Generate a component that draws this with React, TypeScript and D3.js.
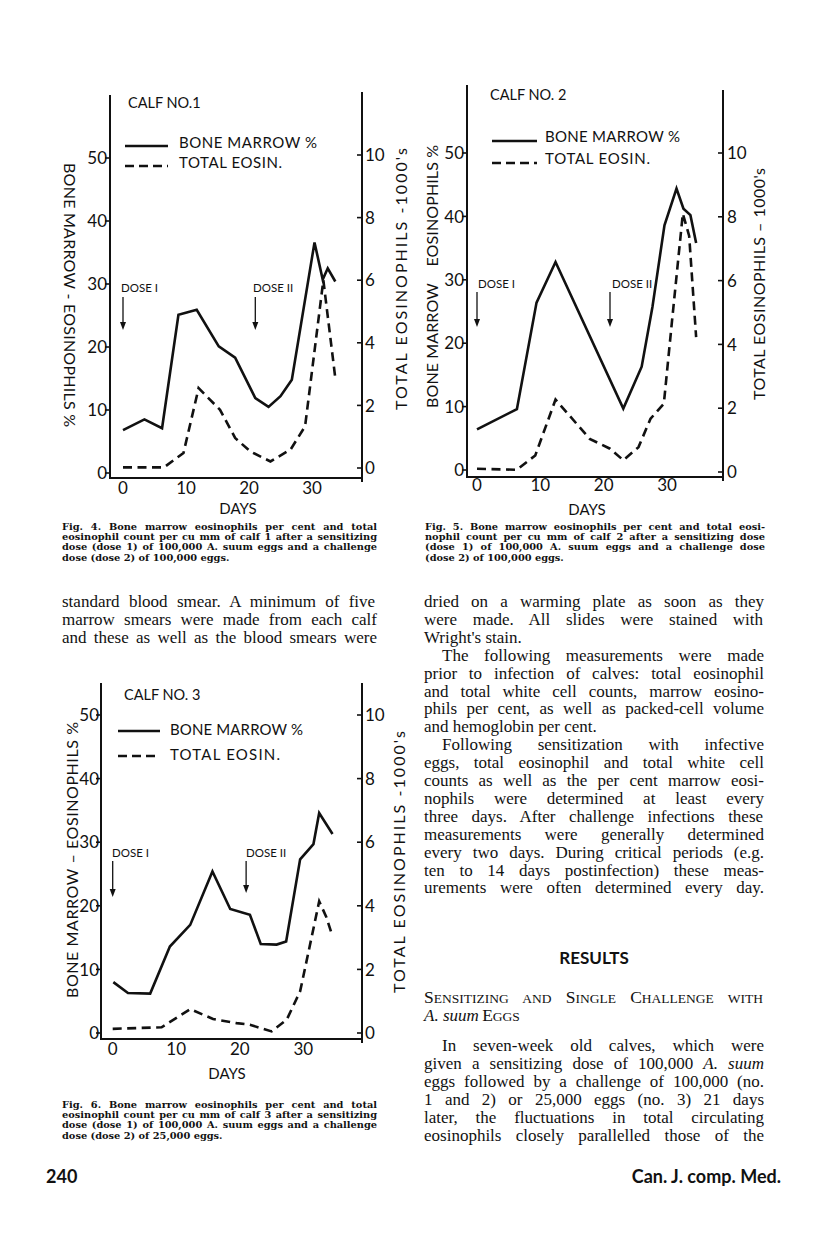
import React from 'react';
import * as d3 from 'd3';

// ---------- chart data ----------
const DAY_TICKS = [0, 10, 20, 30];
const PCT_TICKS = [0, 10, 20, 30, 40, 50];
const K_TICKS = [0, 2, 4, 6, 8, 10];
const DOSE_DAYS = [0, 21];
const DOSE_LABELS = ['DOSE I', 'DOSE II'];
const LEGEND_LABELS = ['BONE MARROW %', 'TOTAL EOSIN.'];

const calf1MarrowDays = [0, 3.4, 6.2, 8.8, 11.7, 15.2, 17.8, 21, 23.1, 25, 26.8, 30.4, 31.7, 32.5, 33.7];
const calf1MarrowPct = [6.8, 8.5, 7.1, 25.1, 25.9, 20.1, 18.3, 11.9, 10.5, 12.2, 14.8, 36.6, 30.7, 32.5, 30.4];
const calf1EosinDays = [0, 6.5, 9.6, 12, 15.4, 17.8, 20.2, 23.4, 26.6, 28.9, 30.5, 31.8, 33.7];
const calf1EosinK = [0.02, 0.02, 0.48, 2.55, 1.86, 0.96, 0.53, 0.21, 0.59, 1.33, 3.9, 6.0, 2.87];

const calf2MarrowDays = [0, 6.3, 9.4, 12.4, 23.1, 26, 27.7, 29.6, 31.5, 32.6, 33.7, 34.6];
const calf2MarrowPct = [6.4, 9.6, 26.4, 32.8, 9.7, 16.3, 25.7, 38.6, 44.4, 41.2, 40.2, 35.8];
const calf2EosinDays = [0, 6.3, 9.2, 12.4, 17.8, 21, 23.1, 25.5, 27.4, 29.5, 30.8, 32.5, 33.5, 34.6];
const calf2EosinK = [0.1, 0.07, 0.52, 2.27, 1.04, 0.73, 0.37, 0.78, 1.67, 2.14, 4.75, 8.1, 7.4, 4.23];

const calf3MarrowDays = [0.1, 2.4, 5.9, 9, 12.2, 15.7, 18.5, 21.6, 23.3, 25.8, 27.3, 29.5, 31.6, 32.5, 34.6];
const calf3MarrowPct = [8.0, 6.3, 6.2, 13.6, 17.0, 25.4, 19.5, 18.6, 14.0, 13.9, 14.4, 27.3, 29.7, 34.6, 31.3];
const calf3EosinDays = [0, 7.7, 12.2, 15.8, 19.5, 21.6, 25, 27.4, 29.5, 31, 32.5, 33.6, 34.6];
const calf3EosinK = [0.13, 0.18, 0.75, 0.44, 0.31, 0.26, 0.05, 0.42, 1.31, 2.72, 4.14, 3.66, 3.04];

// ---------- page text ----------
const CAPTION4 = [
  'Fig. 4. Bone marrow eosinophils per cent and total',
  'eosinophil count per cu mm of calf 1 after a sensitizing',
  'dose (dose 1) of 100,000 A. suum eggs and a challenge',
  'dose (dose 2) of 100,000 eggs.',
];
const CAPTION5 = [
  'Fig. 5. Bone marrow eosinophils per cent and total eosi-',
  'nophil count per cu mm of calf 2 after a sensitizing dose',
  '(dose 1) of 100,000 A. suum eggs and a challenge dose',
  '(dose 2) of 100,000 eggs.',
];
const CAPTION6 = [
  'Fig. 6. Bone marrow eosinophils per cent and total',
  'eosinophil count per cu mm of calf 3 after a sensitizing',
  'dose (dose 1) of 100,000 A. suum eggs and a challenge',
  'dose (dose 2) of 25,000 eggs.',
];
const LEFT_BODY = [
  'standard blood smear. A minimum of five',
  'marrow smears were made from each calf',
  'and these as well as the blood smears were',
];
// [text, indent, justify]
const RIGHT_BODY: [string, boolean, boolean][] = [
  ['dried on a warming plate as soon as they', false, true],
  ['were made. All slides were stained with', false, true],
  ["Wright's stain.", false, false],
  ['The following measurements were made', true, true],
  ['prior to infection of calves: total eosinophil', false, true],
  ['and total white cell counts, marrow eosino-', false, true],
  ['phils per cent, as well as packed-cell volume', false, true],
  ['and hemoglobin per cent.', false, false],
  ['Following sensitization with infective', true, true],
  ['eggs, total eosinophil and total white cell', false, true],
  ['counts as well as the per cent marrow eosi-', false, true],
  ['nophils were determined at least every', false, true],
  ['three days. After challenge infections these', false, true],
  ['measurements were generally determined', false, true],
  ['every two days. During critical periods (e.g.', false, true],
  ['ten to 14 days postinfection) these meas-', false, true],
  ['urements were often determined every day.', false, true],
];

type Seg = { t: string; italic?: boolean; size?: number; bold?: boolean };

let _canvas: HTMLCanvasElement | null = null;
function measure(seg: Seg, family: string, size: number, bold: boolean) {
  if (!_canvas) _canvas = document.createElement('canvas');
  const ctx = _canvas.getContext('2d')!;
  const b = seg.bold ?? bold;
  ctx.font = `${seg.italic ? 'italic ' : ''}${b ? 'bold ' : ''}${seg.size ?? size}px ${family}`;
  return ctx.measureText(seg.t).width;
}

function JLine(props: {
  x: number; y: number; width: number; segs: Seg[]; family: string; size: number;
  bold?: boolean; justify?: boolean;
}) {
  const { x, y, width, segs, family, size, bold = false, justify = true } = props;
  const natural = segs.reduce((s, g) => s + measure(g, family, size, bold), 0);
  const spaces = segs.reduce((s, g) => s + (g.t.match(/ /g) || []).length, 0);
  let ws = 0;
  let extra: any = {};
  if (natural > width) {
    extra = { textLength: width, lengthAdjust: 'spacingAndGlyphs' };
  } else if (justify && spaces > 0) {
    ws = (width - natural) / spaces;
  }
  return (
    <text x={x} y={y} fontFamily={family} fontSize={size} fontWeight={bold ? 'bold' : 'normal'}
      style={{ wordSpacing: `${ws}px`, whiteSpace: 'pre' }} {...extra} fill="#111">
      {segs.map((g, i) => (
        <tspan key={i} fontStyle={g.italic ? 'italic' : 'normal'} fontSize={g.size ?? size}
          fontWeight={(g.bold ?? bold) ? 'bold' : 'normal'}>{g.t}</tspan>
      ))}
    </text>
  );
}

function Caption({ lines, x, y0, width }: { lines: string[]; x: number; y0: number; width: number }) {
  return (
    <g>
      {lines.map((l, i) => (
        <JLine key={i} x={x} y={y0 + i * 10.2} width={width} segs={[{ t: l }]}
          family="'DejaVu Serif'" size={9.8} bold justify={i < lines.length - 1} />
      ))}
    </g>
  );
}

type Layout = {
  left: number; right: number; x0: number; x30: number;
  yL0: number; yL50: number; yR0: number; yR10: number;
  base: number; leftTop: number; rightTop: number;
  title: string; titleX: number; titleY: number;
  legX1: number; legX2: number; legTextX: number; legY: number[]; legTextY: number[]; legW: number[];
  leftLabel: string; leftLabelX: number; leftLabelY: number; leftLabelLen: number; leftRot: number;
  rightLabel: string; rightLabelX: number; rightLabelY: number; rightLabelLen: number;
  leftTickLabelX: number; rightTickLabelX: number; xLabelY: number;
  daysX: number; daysY: number;
  doseTextX: number[]; doseTextY: number; arrowTop: number; arrowBot: number[];
};

const SANS = "Lato, 'Open Sans', sans-serif";

function CalfChart({ L, mDays, mPct, eDays, eK }: {
  L: Layout; mDays: number[]; mPct: number[]; eDays: number[]; eK: number[];
}) {
  const x = d3.scaleLinear().domain([0, 30]).range([L.x0, L.x30]);
  const yL = d3.scaleLinear().domain([0, 50]).range([L.yL0, L.yL50]);
  const yR = d3.scaleLinear().domain([0, 10]).range([L.yR0, L.yR10]);
  const marrow = mDays.map((d, i) => [d, mPct[i]] as [number, number]);
  const eos = eDays.map((d, i) => [d, eK[i]] as [number, number]);
  const lineL = d3.line<[number, number]>().x(d => x(d[0])).y(d => yL(d[1]));
  const lineR = d3.line<[number, number]>().x(d => x(d[0])).y(d => yR(d[1]));
  const ink = '#111';
  return (
    <g>
      {/* axes */}
      <line x1={L.left} x2={L.left} y1={L.leftTop} y2={L.base + 1} stroke={ink} strokeWidth={2} />
      <line x1={L.right} x2={L.right} y1={L.rightTop} y2={L.base + 4} stroke={ink} strokeWidth={2} />
      <line x1={L.left} x2={L.right} y1={L.base} y2={L.base} stroke={ink} strokeWidth={2} />
      {PCT_TICKS.map(t => (
        <g key={'l' + t}>
          <line x1={L.left - 5} x2={L.left} y1={yL(t)} y2={yL(t)} stroke={ink} strokeWidth={1.6} />
          <text x={L.leftTickLabelX} y={yL(t)} dy="0.36em" textAnchor="end" fontFamily={SANS} fontSize={17} fill={ink}>{t}</text>
        </g>
      ))}
      {K_TICKS.map(t => (
        <g key={'r' + t}>
          <line x1={L.right - 5} x2={L.right + 1} y1={yR(t)} y2={yR(t)} stroke={ink} strokeWidth={1.6} />
          <text x={L.rightTickLabelX} y={yR(t)} dy="0.36em" fontFamily={SANS} fontSize={17} fill={ink}>{t}</text>
        </g>
      ))}
      {DAY_TICKS.map(t => (
        <text key={'x' + t} x={x(t)} y={L.xLabelY} textAnchor="middle" fontFamily={SANS} fontSize={17} fill={ink}>{t}</text>
      ))}
      <text x={L.daysX} y={L.daysY} textAnchor="middle" fontFamily={SANS} fontSize={15} fill={ink}>DAYS</text>
      {/* titles and legend */}
      <text x={L.titleX} y={L.titleY} fontFamily={SANS} fontSize={14.5} fill={ink}>{L.title}</text>
      <line x1={L.legX1} x2={L.legX2} y1={L.legY[0]} y2={L.legY[0]} stroke={ink} strokeWidth={2.4} />
      <line x1={L.legX1} x2={L.legX2} y1={L.legY[1]} y2={L.legY[1]} stroke={ink} strokeWidth={2.4} strokeDasharray="9,5" />
      {LEGEND_LABELS.map((lab, i) => (
        <text key={lab} x={L.legTextX} y={L.legTextY[i]} fontFamily={SANS} fontSize={15} fill={ink}
          textLength={L.legW[i]} lengthAdjust="spacing">{lab}</text>
      ))}
      {/* axis labels */}
      <text transform={`translate(${L.leftLabelX},${L.leftLabelY}) rotate(${L.leftRot})`} textAnchor="middle"
        fontFamily={SANS} fontSize={16} fill={ink} textLength={L.leftLabelLen} lengthAdjust="spacing"
        style={{ whiteSpace: 'pre' }}>{L.leftLabel}</text>
      <text transform={`translate(${L.rightLabelX},${L.rightLabelY}) rotate(-90)`} textAnchor="middle"
        fontFamily={SANS} fontSize={16} fill={ink} textLength={L.rightLabelLen} lengthAdjust="spacing">{L.rightLabel}</text>
      {/* dose arrows */}
      {DOSE_DAYS.map((d, i) => (
        <g key={'dose' + i}>
          <text x={L.doseTextX[i]} y={L.doseTextY} fontFamily={SANS} fontSize={11.5} fill={ink}>{DOSE_LABELS[i]}</text>
          <line x1={x(d)} x2={x(d)} y1={L.arrowTop} y2={L.arrowBot[i] - 5} stroke={ink} strokeWidth={1.3} />
          <path d={`M${x(d) - 3},${L.arrowBot[i] - 8} L${x(d) + 3},${L.arrowBot[i] - 8} L${x(d)},${L.arrowBot[i]} Z`} fill={ink} />
        </g>
      ))}
      {/* series */}
      <path d={lineL(marrow)!} fill="none" stroke={ink} strokeWidth={2.6} strokeLinejoin="miter" />
      <path d={lineR(eos)!} fill="none" stroke={ink} strokeWidth={2.6} strokeDasharray="9,5.5" />
    </g>
  );
}

const L1: Layout = {
  left: 110, right: 362, x0: 123, x30: 312,
  yL0: 473, yL50: 158, yR0: 468, yR10: 155,
  base: 478, leftTop: 95, rightTop: 92,
  title: 'CALF NO.1', titleX: 128, titleY: 108,
  legX1: 125, legX2: 168, legTextX: 179, legY: [146, 166], legTextY: [147.5, 167.5], legW: [138, 103],
  leftLabel: 'BONE MARROW - EOSINOPHILS %', leftLabelX: 64, leftLabelY: 295, leftLabelLen: 264, leftRot: 90,
  rightLabel: "TOTAL EOSINOPHILS -1000's", rightLabelX: 407, rightLabelY: 279, rightLabelLen: 262,
  leftTickLabelX: 107, rightTickLabelX: 365, xLabelY: 494,
  daysX: 238, daysY: 514,
  doseTextX: [121, 253], doseTextY: 292, arrowTop: 297, arrowBot: [330, 330],
};
const L2: Layout = {
  left: 467, right: 723, x0: 477, x30: 667,
  yL0: 470, yL50: 153, yR0: 472, yR10: 153,
  base: 477, leftTop: 85, rightTop: 90,
  title: 'CALF NO. 2', titleX: 490, titleY: 100,
  legX1: 492, legX2: 537, legTextX: 545, legY: [141, 163], legTextY: [141.5, 163.5], legW: [135, 105],
  leftLabel: 'BONE MARROW\u00a0\u00a0\u00a0\u00a0EOSINOPHILS %', leftLabelX: 438, leftLabelY: 276.5, leftLabelLen: 263, leftRot: -90,
  rightLabel: "TOTAL EOSINOPHILS \u2013 1000's", rightLabelX: 765, rightLabelY: 284, rightLabelLen: 232,
  leftTickLabelX: 464, rightTickLabelX: 727, xLabelY: 491,
  daysX: 587, daysY: 515,
  doseTextX: [478, 612], doseTextY: 288, arrowTop: 292, arrowBot: [327, 327],
};
const L3: Layout = {
  left: 101, right: 362, x0: 112.7, x30: 303.3,
  yL0: 1033, yL50: 715, yR0: 1033, yR10: 715,
  base: 1039, leftTop: 683, rightTop: 683,
  title: 'CALF NO. 3', titleX: 124, titleY: 700,
  legX1: 118, legX2: 160, legTextX: 170, legY: [731, 756], legTextY: [734.5, 760], legW: [133, 110],
  leftLabel: 'BONE MARROW \u2013 EOSINOPHILS %', leftLabelX: 78, leftLabelY: 860, leftLabelLen: 276, leftRot: -90,
  rightLabel: "TOTAL EOSINOPHILS -1000's", rightLabelX: 405, rightLabelY: 862, rightLabelLen: 262,
  leftTickLabelX: 99, rightTickLabelX: 365, xLabelY: 1055,
  daysX: 227, daysY: 1079,
  doseTextX: [112, 246], doseTextY: 857, arrowTop: 861, arrowBot: [897, 893],
};

const SERIF = "'Liberation Serif', 'Times New Roman', serif";
const BODY = 17;

export default function App() {
  const rx = 424, rw = 340;
  return (
    <svg width={816} height={1247} viewBox="0 0 816 1247"
      style={{ position: 'absolute', left: 0, top: 0, background: '#fff' }}>
      <rect width={816} height={1247} fill="#fff" />
      <CalfChart L={L1} mDays={calf1MarrowDays} mPct={calf1MarrowPct} eDays={calf1EosinDays} eK={calf1EosinK} />
      <CalfChart L={L2} mDays={calf2MarrowDays} mPct={calf2MarrowPct} eDays={calf2EosinDays} eK={calf2EosinK} />
      <CalfChart L={L3} mDays={calf3MarrowDays} mPct={calf3MarrowPct} eDays={calf3EosinDays} eK={calf3EosinK} />

      <Caption lines={CAPTION4} x={62} y0={530} width={315} />
      <Caption lines={CAPTION5} x={425} y0={530} width={340} />
      <Caption lines={CAPTION6} x={62} y0={1108} width={315} />

      {LEFT_BODY.map((l, i) => (
        <JLine key={'lb' + i} x={62} y={607 + i * 18.2} width={315} segs={[{ t: l }]} family={SERIF} size={BODY} />
      ))}
      {RIGHT_BODY.map(([l, indent, just], i) => (
        <JLine key={'rb' + i} x={indent ? rx + 18 : rx} y={607 + i * 17.9} width={indent ? rw - 18 : rw}
          segs={[{ t: l }]} family={SERIF} size={BODY} justify={just} />
      ))}

      <text x={594} y={964} textAnchor="middle" fontFamily={SANS} fontWeight="bold" fontSize={17} fill="#111">RESULTS</text>

      <JLine x={rx} y={1003} width={rw} family={SERIF} size={13.5}
        segs={[{ t: 'S', size: 17.5 }, { t: 'ENSITIZING AND ' }, { t: 'S', size: 17.5 }, { t: 'INGLE ' },
          { t: 'C', size: 17.5 }, { t: 'HALLENGE WITH' }]} />
      <JLine x={rx} y={1021} width={rw} family={SERIF} size={13.5} justify={false}
        segs={[{ t: 'A. suum', italic: true, size: BODY }, { t: ' ' }, { t: 'E', size: 17.5 }, { t: 'GGS' }]} />

      <JLine x={rx + 18} y={1051} width={rw - 18} family={SERIF} size={BODY} segs={[{ t: 'In seven-week old calves, which were' }]} />
      <JLine x={rx} y={1069} width={rw} family={SERIF} size={BODY}
        segs={[{ t: 'given a sensitizing dose of 100,000 ' }, { t: 'A. suum', italic: true }]} />
      <JLine x={rx} y={1087} width={rw} family={SERIF} size={BODY} segs={[{ t: 'eggs followed by a challenge of 100,000 (no.' }]} />
      <JLine x={rx} y={1105} width={rw} family={SERIF} size={BODY} segs={[{ t: '1 and 2) or 25,000 eggs (no. 3) 21 days' }]} />
      <JLine x={rx} y={1123} width={rw} family={SERIF} size={BODY} segs={[{ t: 'later, the fluctuations in total circulating' }]} />
      <JLine x={rx} y={1141} width={rw} family={SERIF} size={BODY} segs={[{ t: 'eosinophils closely parallelled those of the' }]} />

      <text x={46} y={1183} fontFamily={SANS} fontWeight="bold" fontSize={18} fill="#111">240</text>
      <text x={781} y={1183} textAnchor="end" fontFamily={SANS} fontWeight="bold" fontSize={18} fill="#111">Can. J. comp. Med.</text>
    </svg>
  );
}
